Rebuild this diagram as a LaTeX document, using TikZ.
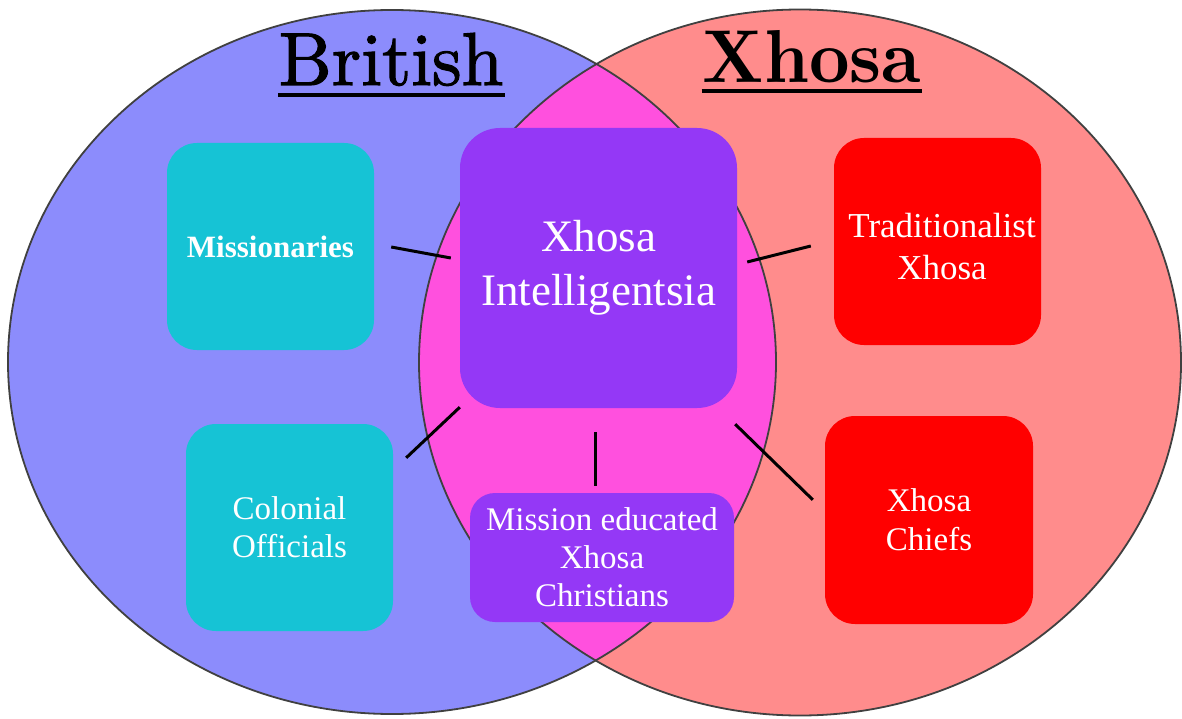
\documentclass[tikz,border=0pt]{standalone}
\usepackage{fontspec}
\setmainfont{Liberation Serif}
\newfontfamily\titlefont{lmroman10}[Extension=.otf, UprightFont=*-regular, BoldFont=*-bold,
  UprightFeatures={FakeBold=1.5}]
\usetikzlibrary{calc}

\definecolor{britfill}{RGB}{140,140,252}
\definecolor{xhosafill}{RGB}{255,140,140}
\definecolor{lensfill}{RGB}{255,80,222}
\definecolor{tealbox}{RGB}{22,195,213}
\definecolor{purplebox}{RGB}{148,56,246}
\definecolor{redbox}{RGB}{255,0,0}
\definecolor{rimgray}{RGB}{64,64,64}

\begin{document}
\begin{tikzpicture}[x=1pt,y=-1pt,
  rim/.style={draw=rimgray, line width=1.8pt},
  groupbox/.style={rounded corners=#1, inner sep=0pt, text=white, align=center},
  title/.style={inner sep=0pt, anchor=base, font=\titlefont\fontsize{75}{78}\selectfont},
  uline/.style={line width=4pt, black},
  link/.style={line width=3pt, black}]

\useasboundingbox (0,0) rectangle (1182,719);
\fill[white] (0,0) rectangle (1182,719);

% the two overlapping sets and their common lens
\fill[britfill] (392,362) ellipse [x radius=384, y radius=352];
\fill[xhosafill] (800,362.5) ellipse [x radius=381, y radius=353];
\begin{scope}
  \clip (392,362) ellipse [x radius=384, y radius=352];
  \fill[lensfill] (800,362.5) ellipse [x radius=381, y radius=353];
\end{scope}
\draw[rim] (392,362) ellipse [x radius=384, y radius=352];
\draw[rim] (800,362.5) ellipse [x radius=381, y radius=353];

% set titles
\node[title] (tbrit) at (391,85) {British};
\draw[uline] ($(tbrit.base west)+(0,10)$) -- ($(tbrit.base east)+(1,10)$);
\node[title] (txhosa) at (812,83) {\bfseries\scalebox{0.94}[1]{Xhosa}};
\draw[uline] ($(txhosa.base west)+(-1,8)$) -- ($(txhosa.base east)+(1,8)$);

% groups
\node[groupbox=30pt, fill=tealbox, minimum width=207pt, minimum height=207pt,
      font=\fontsize{31}{36}\selectfont\bfseries] (miss) at (270.5,246.5) {Missionaries};
\node[groupbox=30pt, fill=tealbox, minimum width=207pt, minimum height=207pt,
      font=\fontsize{33}{38}\selectfont] (colo) at (289.5,527.5) {Colonial\\Officials};
\node[groupbox=40pt, fill=purplebox, minimum width=277pt, minimum height=280pt,
      font=\fontsize{45}{54}\selectfont] (intel) at (598.5,268) {Xhosa\\Intelligentsia};
\node[groupbox=30pt, fill=redbox, minimum width=207pt, minimum height=207pt] (trad) at (937.5,241.5) {};
\node[text=white, align=center, inner sep=0pt, font=\fontsize{35}{42}\selectfont]
      (tradtxt) at (942,247) {Traditionalist\\Xhosa};
\node[groupbox=30pt, fill=redbox, minimum width=208pt, minimum height=208pt,
      font=\fontsize{33}{39}\selectfont] (chief) at (929,520) {Xhosa\\Chiefs};
\node[groupbox=25pt, fill=purplebox, minimum width=264pt, minimum height=129pt,
      font=\fontsize{33}{38}\selectfont] (mece) at (602,557.5) {Mission educated\\Xhosa\\Christians};

% links to the intelligentsia
\draw[link] ($(miss.east)+(17,0.5)$) coordinate (m1) -- ($(intel.west)+(-9,-10)$) coordinate (m2);
\draw[link] ($(trad.west)+(-23,4.5)$) coordinate (t1) -- ($(intel.east)+(10,-6)$) coordinate (t2);
\draw[link] ($(colo.north east)+(13,34)$) coordinate (c1) -- ($(intel.south west)+(0,-1)$) coordinate (c2);
\draw[link] ($(mece.north)+(-7,-7)$) coordinate (e1) -- ($(intel.south)+(-3.5,24)$) coordinate (e2);
\draw[link] ($(chief.north west)+(-12,84)$) coordinate (h1) -- ($(intel.south east)+(-2,16)$) coordinate (h2);

\end{tikzpicture}
\end{document}
